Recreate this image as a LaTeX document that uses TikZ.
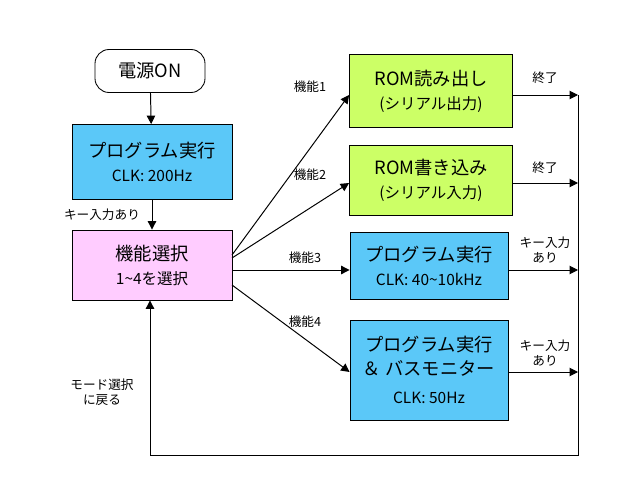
\documentclass[tikz,border=0pt]{standalone}
\usepackage{fontspec}
\setmainfont{Noto Sans CJK JP}
\usetikzlibrary{arrows.meta}
\definecolor{cblue}{HTML}{5BC8F8}
\definecolor{cpink}{HTML}{FFCCFF}
\definecolor{cgreen}{HTML}{CCFF66}
\begin{document}
\begin{tikzpicture}[x=0.025cm,y=-0.025cm,
  box/.style={draw=black,line width=0.6pt,align=center,inner sep=0pt,font=\fontsize{13}{17}\selectfont},
  lab/.style={font=\fontsize{9}{11}\selectfont,align=center},
  arr/.style={line width=0.7pt,-{Triangle[length=6pt,width=6pt]}},
  ln/.style={line width=0.7pt}]
\path[use as bounding box] (0,0) rectangle (640,480);
\node[box,rounded corners=10pt,minimum width=110*0.025cm,minimum height=43*0.025cm] (on) at (150,71) {電源ON};
\node[box,fill=cblue,minimum width=160*0.025cm,minimum height=75*0.025cm] (p1) at (152,162) {プログラム実行\\{\fontsize{11}{15}\selectfont CLK: 200Hz}};
\node[box,fill=cpink,minimum width=160*0.025cm,minimum height=70*0.025cm] (sel) at (152,265) {機能選択\\{\fontsize{11}{15}\selectfont 1\textasciitilde 4を選択}};
\node[box,fill=cgreen,minimum width=163*0.025cm,minimum height=73*0.025cm] (r1) at (431,91) {ROM読み出し\\{\fontsize{11}{15}\selectfont (シリアル出力)}};
\node[box,fill=cgreen,minimum width=163*0.025cm,minimum height=70*0.025cm] (r2) at (431,180) {ROM書き込み\\{\fontsize{11}{15}\selectfont (シリアル入力)}};
\node[box,fill=cblue,minimum width=158*0.025cm,minimum height=67*0.025cm] (p3) at (429,266) {プログラム実行\\{\fontsize{11}{15}\selectfont CLK: 40\textasciitilde 10kHz}};
\node[box,fill=cblue,minimum width=158*0.025cm,minimum height=100*0.025cm] (p4) at (429,370) {プログラム実行\\＆ バスモニター\\[3pt]{\fontsize{11}{15}\selectfont CLK: 50Hz}};
\coordinate (e1) at (578,95);
\coordinate (e2) at (578,183);
\coordinate (e3) at (578,270);
\coordinate (e4) at (578,372);
\coordinate (eb) at (578,455);
\coordinate (lb) at (150,455);
\draw[arr] (on) -- (p1);
\draw[arr] (p1) -- (sel);
\draw[arr] (232,255) -- (r1.west |- 0,95);
\draw[arr] (232,258) -- (r2.west |- 0,183);
\draw[arr] (232,270) -- (p3.west |- 0,270);
\draw[arr] (232,285) -- (p4.west |- 0,372);
\draw[arr] (r1.east |- e1) -- (e1);
\draw[arr] (r2.east |- e2) -- (e2);
\draw[arr] (p3.east |- e3) -- (e3);
\draw[arr] (p4.east |- e4) -- (e4);
\draw[ln] (e1) -- (eb) -- (lb);
\draw[arr] (lb) -- (sel.south -| lb);
\node[lab] (k1) at (310,87) {機能1};
\node[lab] (k2) at (310,175) {機能2};
\node[lab] (k3) at (305,258) {機能3};
\node[lab] (k4) at (305,322) {機能4};
\node[lab] (s1) at (545,78) {終了};
\node[lab] (s2) at (545,168) {終了};
\node[lab] (s3) at (545,250) {キー入力\\あり};
\node[lab] (s4) at (545,353) {キー入力\\あり};
\node[lab] (ka) at (102,215) {キー入力あり};
\node[lab] (md) at (102,392) {モード選択\\に戻る};
\end{tikzpicture}
\end{document}
